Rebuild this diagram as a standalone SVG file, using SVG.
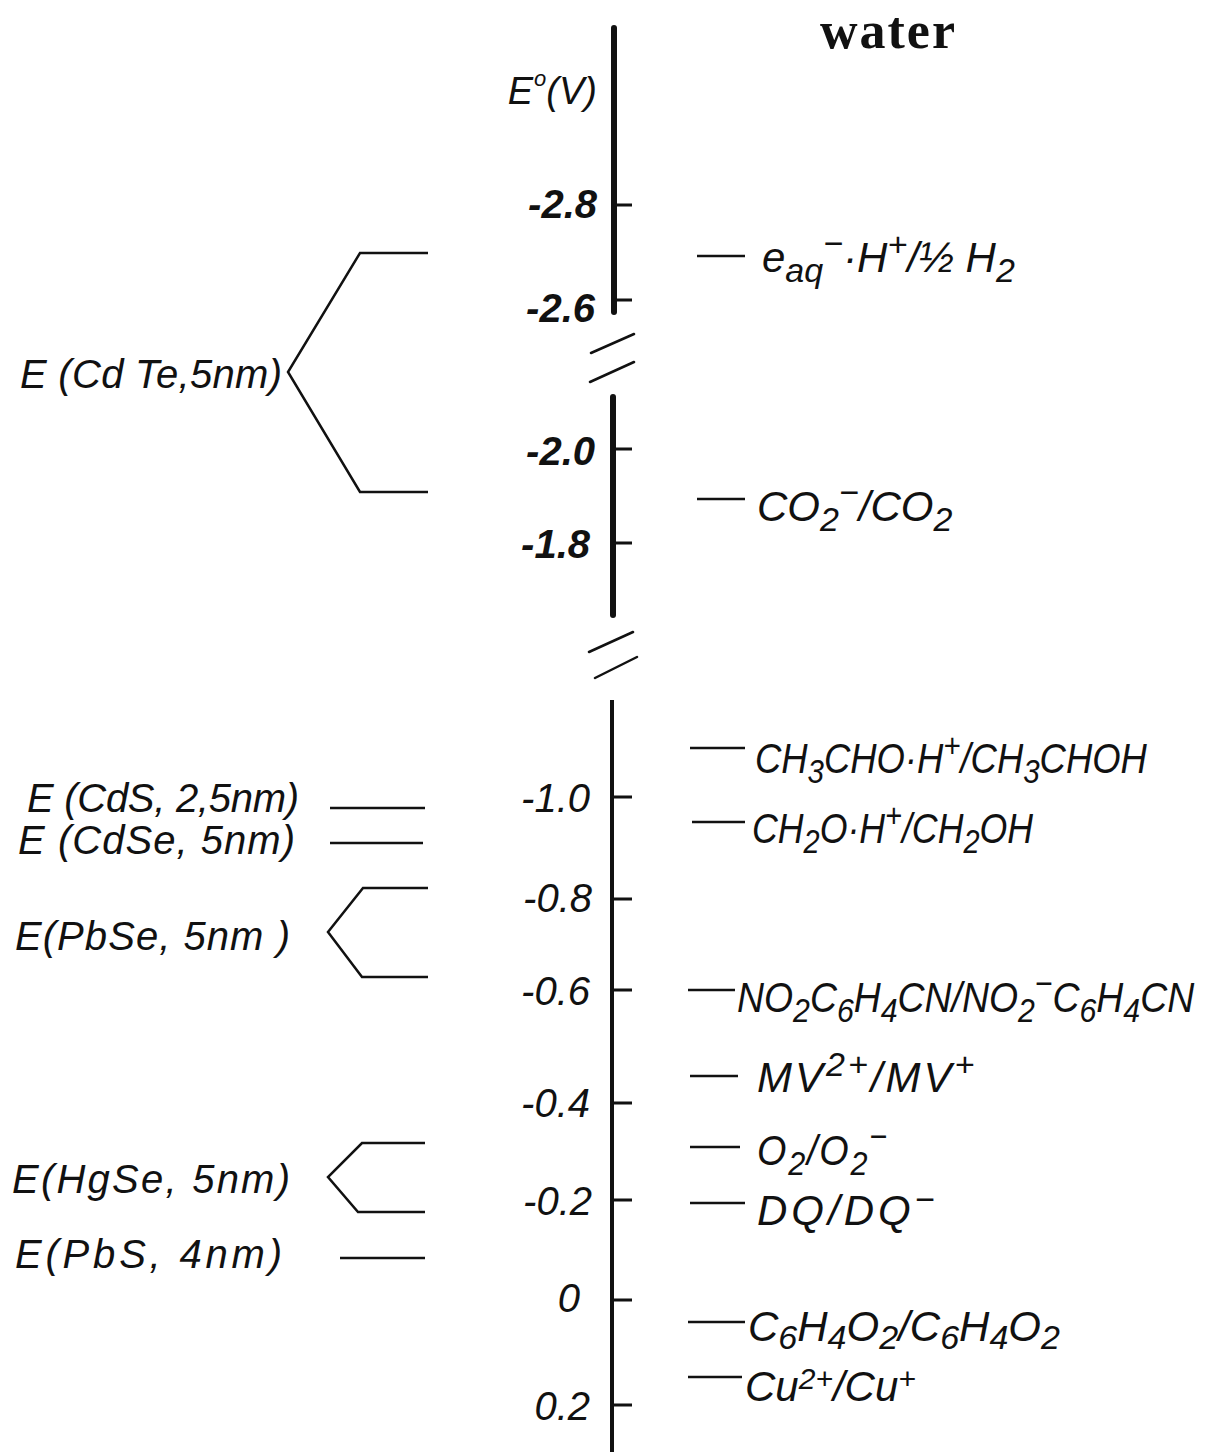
<svg xmlns="http://www.w3.org/2000/svg" width="1207" height="1452" viewBox="0 0 1207 1452">
<style>
.ax{stroke:#111;stroke-width:6;stroke-linecap:round;fill:none}
.ax2{stroke:#111;stroke-width:4;fill:none}
.tk{stroke:#111;stroke-width:3;fill:none}
.ln{stroke:#111;stroke-width:2.5;fill:none}
.t{font-family:"Liberation Sans",Arial,sans-serif;font-style:italic;fill:#111}
.tl{font-size:40px}
.lft{font-size:40px}
.r{font-size:42px}
.s{font-size:34px}
.w{font-family:"Liberation Serif","Times New Roman",serif;font-weight:bold;font-size:52px;fill:#111}
</style>
<rect width="1207" height="1452" fill="#fff"/>

<g id="title"><text class="w" x="820" y="48" letter-spacing="2">water</text></g>

<g id="axis">
  <path class="ax" d="M614,28 V312"/>
  <path class="ax" d="M613,397 V615"/>
  <path class="ax2" d="M612,700 V1452"/>
  <path class="tk" d="M614,205 H632 M614,300 H632 M613,449 H632 M613,543 H632 M612,797 H632 M612,899 H632 M612,990 H632 M612,1103 H632 M612,1200 H632 M612,1300 H632 M612,1405 H632"/>
  <path class="ln" stroke-width="4" stroke-linecap="round" d="M591,353 L634,334 M590,382 L634,362 M589,652 L633,632 M595,678 L637,657"/>
  <text class="t" x="597" y="104" text-anchor="end" font-size="38">E<tspan font-size="22" dy="-18" dx="1">o</tspan><tspan dy="18">(V)</tspan></text>
  <text class="t tl" x="597" y="218" text-anchor="end" font-weight="bold">-2.8</text>
  <text class="t tl" x="595" y="322" text-anchor="end" font-weight="bold">-2.6</text>
  <text class="t tl" x="595" y="465" text-anchor="end" font-weight="bold">-2.0</text>
  <text class="t tl" x="590" y="558" text-anchor="end" font-weight="bold">-1.8</text>
  <text class="t tl" x="590" y="812" text-anchor="end">-1.0</text>
  <text class="t tl" x="592" y="912" text-anchor="end">-0.8</text>
  <text class="t tl" x="590" y="1005" text-anchor="end">-0.6</text>
  <text class="t tl" x="590" y="1117" text-anchor="end">-0.4</text>
  <text class="t tl" x="592" y="1215" text-anchor="end">-0.2</text>
  <text class="t tl" x="580" y="1312" text-anchor="end">0</text>
  <text class="t tl" x="590" y="1420" text-anchor="end">0.2</text>
</g>

<g id="cdte">
  <path class="ln" d="M428,253 H360 L288,372 L360,492 H428"/>
  <text class="t lft" x="20" y="388" textLength="262" lengthAdjust="spacing">E (Cd Te,5nm)</text>
</g>
<g id="cds">
  <path class="ln" d="M330,808 H425"/>
  <text class="t lft" x="27" y="812" font-size="37" textLength="272" lengthAdjust="spacing">E (CdS, 2,5nm)</text>
</g>
<g id="cdse">
  <path class="ln" d="M330,843 H423"/>
  <text class="t lft" x="18" y="854" font-size="37" textLength="277" lengthAdjust="spacing">E (CdSe, 5nm)</text>
</g>
<g id="pbse">
  <path class="ln" d="M428,888 H363 L328,932 L362,977 H428"/>
  <text class="t lft" x="15" y="950" textLength="275" lengthAdjust="spacing">E(PbSe, 5nm )</text>
</g>
<g id="hgse">
  <path class="ln" d="M425,1143 H362 L328,1177 L358,1212 H425"/>
  <text class="t lft" x="12" y="1193" textLength="278" lengthAdjust="spacing">E(HgSe, 5nm)</text>
</g>
<g id="pbs">
  <path class="ln" d="M340,1258 H425"/>
  <text class="t lft" x="15" y="1268" textLength="267" lengthAdjust="spacing">E(PbS, 4nm)</text>
</g>

<g id="eaq">
  <path class="ln" d="M697,256 H745"/>
  <text class="t r" x="762" y="272">e<tspan class="s" dy="10">aq</tspan><tspan class="s" dy="-27">−</tspan><tspan dy="17">·H</tspan><tspan class="s" dy="-16">+</tspan><tspan dy="16">/½ H</tspan><tspan class="s" dy="10">2</tspan></text>
</g>
<g id="co2">
  <path class="ln" d="M697,499 H745"/>
  <text class="t r" x="757" y="521">CO<tspan class="s" dy="10">2</tspan><tspan class="s" dy="-27">−</tspan><tspan dy="17">/CO</tspan><tspan class="s" dy="10">2</tspan></text>
</g>
<g id="ch3cho">
  <path class="ln" d="M690,748 H745"/>
  <text class="t r" transform="translate(755,773) scale(0.867,1)">CH<tspan class="s" dy="10">3</tspan><tspan dy="-10">CHO·H</tspan><tspan class="s" dy="-16">+</tspan><tspan dy="16">/CH</tspan><tspan class="s" dy="10">3</tspan><tspan dy="-10">CHOH</tspan></text>
</g>
<g id="ch2o">
  <path class="ln" d="M692,822 H745"/>
  <text class="t r" transform="translate(752,843) scale(0.85,1)">CH<tspan class="s" dy="10">2</tspan><tspan dy="-10">O·H</tspan><tspan class="s" dy="-16">+</tspan><tspan dy="16">/CH</tspan><tspan class="s" dy="10">2</tspan><tspan dy="-10">OH</tspan></text>
</g>
<g id="no2">
  <path class="ln" d="M688,990 H735"/>
  <text class="t r" transform="translate(737,1012) scale(0.89,1)">NO<tspan class="s" dy="10">2</tspan><tspan dy="-10">C</tspan><tspan class="s" dy="10">6</tspan><tspan dy="-10">H</tspan><tspan class="s" dy="10">4</tspan><tspan dy="-10">CN/NO</tspan><tspan class="s" dy="10">2</tspan><tspan class="s" dy="-27">−</tspan><tspan dy="17">C</tspan><tspan class="s" dy="10">6</tspan><tspan dy="-10">H</tspan><tspan class="s" dy="10">4</tspan><tspan dy="-10">CN</tspan></text>
</g>
<g id="mv">
  <path class="ln" d="M690,1076 H738"/>
  <text class="t r" x="757" y="1092" letter-spacing="3">MV<tspan class="s" dy="-16">2+</tspan><tspan dy="16">/MV</tspan><tspan class="s" dy="-16">+</tspan></text>
</g>
<g id="o2">
  <path class="ln" d="M690,1147 H740"/>
  <text class="t r" transform="translate(757,1165) scale(0.9,1)" letter-spacing="2">O<tspan class="s" dy="10">2</tspan><tspan dy="-10">/O</tspan><tspan class="s" dy="10">2</tspan><tspan class="s" dy="-27">−</tspan></text>
</g>
<g id="dq">
  <path class="ln" d="M690,1203 H745"/>
  <text class="t r" x="757" y="1225" letter-spacing="4">DQ/DQ<tspan class="s" dy="-14">−</tspan></text>
</g>
<g id="c6h4o2">
  <path class="ln" d="M688,1322 H745"/>
  <text class="t r" x="748" y="1341">C<tspan class="s" dy="8">6</tspan><tspan dy="-8">H</tspan><tspan class="s" dy="8">4</tspan><tspan dy="-8">O</tspan><tspan class="s" dy="8">2</tspan><tspan dy="-8">/C</tspan><tspan class="s" dy="8">6</tspan><tspan dy="-8">H</tspan><tspan class="s" dy="8">4</tspan><tspan dy="-8">O</tspan><tspan class="s" dy="8">2</tspan></text>
</g>
<g id="cu">
  <path class="ln" d="M688,1377 H742"/>
  <text class="t r" x="745" y="1401">Cu<tspan font-size="30" dy="-12">2+</tspan><tspan dy="12">/Cu</tspan><tspan font-size="30" dy="-12">+</tspan></text>
</g>
</svg>
